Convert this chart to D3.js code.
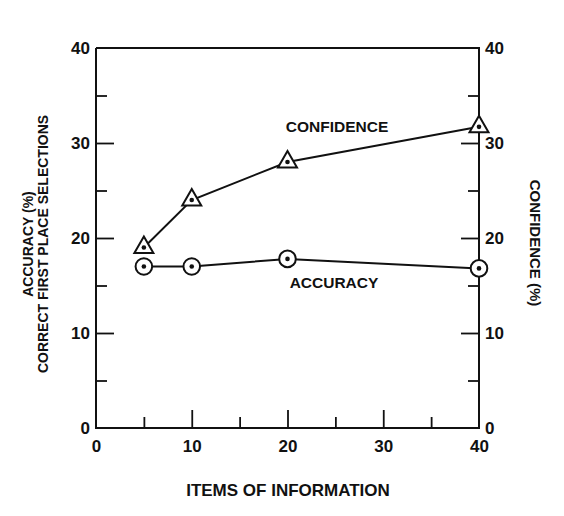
<!DOCTYPE html>
<html>
<head>
<meta charset="utf-8">
<script src="https://cdn.jsdelivr.net/npm/d3@7"></script>
<style>
  body { margin: 0; background: #fff; }
  svg { font-family: "Liberation Sans", Arial, Helvetica, sans-serif; font-weight: bold; }
  .axis path { display: none; }
  .axis line { stroke: #111; stroke-width: 1.8; }
  .axis text { fill: #111; font-size: 17px; font-weight: bold; }
</style>
</head>
<body>
<div id="chart"></div>
<script>
// items of information (x) and the two series
var items = [5, 10, 20, 40];
var confidence = [19, 24, 28, 31.7];
var accuracy = [17, 17, 17.8, 16.8];
var tickLabels = [0, 10, 20, 30, 40];
var majorTicks = [10, 20, 30];
var minorTicks = [5, 15, 25, 35];

var width = 564, height = 516;
var margin = { top: 48, bottom: 88, left: 96, right: 85 };

var xScale = d3.scaleLinear()
    .domain([0, 40])
    .range([margin.left, width - margin.right]);

var yScale = d3.scaleLinear()
    .domain([0, 40])
    .range([height - margin.bottom, margin.top]);

var svg = d3.select("#chart")
    .append("svg")
    .attr("width", width)
    .attr("height", height);

var x0 = xScale(0), x1 = xScale(40), y0 = yScale(0), y1 = yScale(40);

// frame (left, bottom, right, top)
svg.append("path")
    .attr("d", "M" + x0 + "," + y1 + "V" + y0 + "H" + x1 + "V" + y1 + "H" + x0)
    .attr("fill", "none")
    .attr("stroke", "#111")
    .attr("stroke-width", 2);

// inward ticks: major longer, minor shorter
function ticks(axisFn, scale, vals, size, transform) {
    svg.append("g")
        .attr("class", "axis")
        .attr("transform", transform)
        .call(axisFn(scale).tickValues(vals).tickSize(size).tickFormat(""));
}
ticks(d3.axisBottom, xScale, majorTicks, -18, "translate(0," + y0 + ")");
ticks(d3.axisBottom, xScale, minorTicks, -11, "translate(0," + y0 + ")");
ticks(d3.axisLeft, yScale, majorTicks, -18, "translate(" + x0 + ",0)");
ticks(d3.axisLeft, yScale, minorTicks, -11, "translate(" + x0 + ",0)");
ticks(d3.axisRight, yScale, majorTicks, -18, "translate(" + x1 + ",0)");
ticks(d3.axisRight, yScale, minorTicks, -11, "translate(" + x1 + ",0)");

// tick labels
svg.append("g")
    .attr("class", "axis")
    .attr("transform", "translate(0," + y0 + ")")
    .call(d3.axisBottom(xScale).tickValues(tickLabels).tickSize(0).tickPadding(12));

svg.append("g")
    .attr("class", "axis")
    .attr("transform", "translate(" + x0 + ",0)")
    .call(d3.axisLeft(yScale).tickValues(tickLabels).tickSize(0).tickPadding(6));

svg.append("g")
    .attr("class", "axis")
    .attr("transform", "translate(" + x1 + ",0)")
    .call(d3.axisRight(yScale).tickValues(tickLabels).tickSize(0).tickPadding(6));

// lines
var line = d3.line()
    .x(function(d) { return xScale(d[0]); })
    .y(function(d) { return yScale(d[1]); });

var confData = items.map(function(d, i) { return [d, confidence[i]]; });
var accData = items.map(function(d, i) { return [d, accuracy[i]]; });

svg.append("path")
    .datum(confData)
    .attr("d", line)
    .attr("fill", "none")
    .attr("stroke", "#111")
    .attr("stroke-width", 2);

svg.append("path")
    .datum(accData)
    .attr("d", line)
    .attr("fill", "none")
    .attr("stroke", "#111")
    .attr("stroke-width", 2);

// triangles for confidence (centred on centroid)
var tri = svg.selectAll(".tri")
    .data(confData)
    .enter().append("g")
    .attr("transform", function(d) {
        return "translate(" + xScale(d[0]) + "," + yScale(d[1]) + ")";
    });
tri.append("path")
    .attr("d", "M0,-11 L9.5,5.5 L-9.5,5.5 Z")
    .attr("fill", "#fff")
    .attr("stroke", "#111")
    .attr("stroke-width", 2);
tri.append("circle")
    .attr("r", 2.3)
    .attr("fill", "#111");

// circles for accuracy
var circ = svg.selectAll(".circ")
    .data(accData)
    .enter().append("g")
    .attr("transform", function(d) {
        return "translate(" + xScale(d[0]) + "," + yScale(d[1]) + ")";
    });
circ.append("circle")
    .attr("r", 8.3)
    .attr("fill", "#fff")
    .attr("stroke", "#111")
    .attr("stroke-width", 2);
circ.append("circle")
    .attr("r", 2.3)
    .attr("fill", "#111");

// series labels
svg.append("text")
    .attr("x", 337)
    .attr("y", 132)
    .attr("text-anchor", "middle")
    .attr("font-size", 15.5)
    .attr("fill", "#111")
    .text("CONFIDENCE");

svg.append("text")
    .attr("x", 334)
    .attr("y", 288)
    .attr("text-anchor", "middle")
    .attr("font-size", 15.5)
    .attr("fill", "#111")
    .text("ACCURACY");

// axis titles
svg.append("text")
    .attr("x", 288)
    .attr("y", 496)
    .attr("text-anchor", "middle")
    .attr("font-size", 17)
    .attr("fill", "#111")
    .text("ITEMS OF INFORMATION");

var leftTitle = svg.append("text")
    .attr("transform", "translate(33,244) rotate(-90)")
    .attr("text-anchor", "middle")
    .attr("font-size", 14)
    .attr("fill", "#111");
leftTitle.append("tspan").attr("x", 0).attr("y", 0).text("ACCURACY (%)");
leftTitle.append("tspan").attr("x", 0).attr("y", 15).text("CORRECT FIRST PLACE SELECTIONS");

svg.append("text")
    .attr("transform", "translate(530,243) rotate(90)")
    .attr("text-anchor", "middle")
    .attr("font-size", 15)
    .attr("fill", "#111")
    .text("CONFIDENCE (%)");
</script>
</body>
</html>
